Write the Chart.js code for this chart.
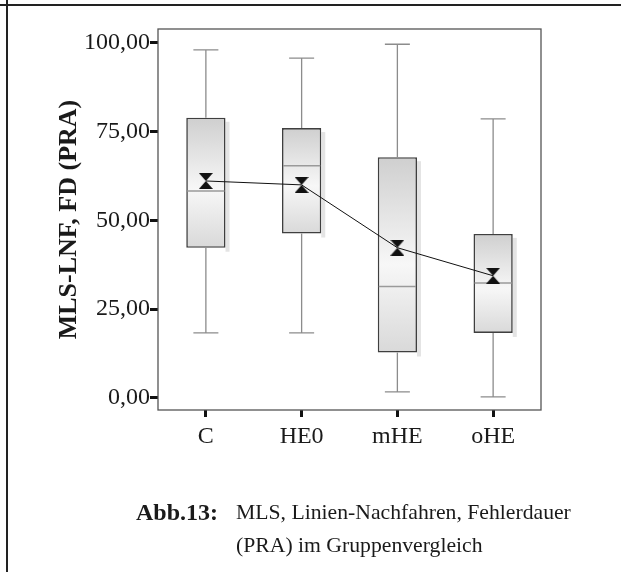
<!DOCTYPE html>
<html>
<head>
<meta charset="utf-8">
<script src="https://cdn.jsdelivr.net/npm/chart.js@4.4.1/dist/chart.umd.min.js"></script>
<style>
    html, body { margin: 0; padding: 0; background: #fff; }
    body { width: 621px; height: 572px; position: relative; overflow: hidden; font-family: "Liberation Serif", "Times New Roman", serif; color: #1a1a1a; }
    .linha-topo { position: absolute; left: 0; top: 4px; width: 621px; height: 2px; background: #222; }
    .linha-esq { position: absolute; left: 6px; top: 0; width: 2px; height: 572px; background: #222; }
    #area { position: absolute; left: 0; top: 0; width: 621px; height: 572px; }
    .legenda { position: absolute; font-size: 21.7px; line-height: 33px; white-space: nowrap; }
    .legenda b { font-size: 24px; }
</style>
</head>
<body>
<div class="linha-topo"></div>
<div class="linha-esq"></div>
<div id="area"><canvas id="grafico_boxplot"></canvas></div>
<div class="legenda" style="left:136px; top:496px;"><b>Abb.13:</b></div>
<div class="legenda" style="left:236px; top:496px;">MLS, Linien-Nachfahren, Fehlerdauer<br>(PRA) im Gruppenvergleich</div>

<script>
const grupos = ['C', 'HE0', 'mHE', 'oHE'];
const minimo = [18.3, 18.3, 1.7, 0.3];
const quartil1 = [42.3, 46.3, 12.8, 18.3];
const mediana = [58.3, 65.4, 31.4, 32.4];
const quartil3 = [78.9, 76.0, 67.8, 46.2];
const maximo = [98.0, 95.7, 99.6, 78.6];
const media = [61.1, 60.0, 42.3, 34.4];
const ticksY = [0, 25, 50, 75, 100];

const fonte = "'Liberation Serif', 'Times New Roman', serif";

// marcador da média (ampulheta)
const ampulheta = document.createElement('canvas');
ampulheta.width = 14;
ampulheta.height = 16;
(function () {
    const c = ampulheta.getContext('2d');
    c.fillStyle = '#111';
    c.beginPath();
    c.moveTo(0, 0); c.lineTo(14, 0); c.lineTo(7, 8); c.closePath();
    c.moveTo(7, 8); c.lineTo(14, 16); c.lineTo(0, 16); c.closePath();
    c.fill();
})();

const detalhesBox = {
    id: 'detalhesBox',
    beforeDatasetsDraw(chart) {
        const ctx = chart.ctx;
        const y = chart.scales.y;
        ctx.save();
        ctx.fillStyle = '#e4e4e4';
        chart.getDatasetMeta(0).data.forEach((el, i) => {
            const topo = y.getPixelForValue(quartil3[i]);
            const base = y.getPixelForValue(quartil1[i]);
            ctx.fillRect(el.x + el.width / 2, topo + 4, 4, base - topo);
        });
        ctx.restore();
    },
    afterDatasetDraw(chart, args) {
        if (args.index !== 0) return;
        const ctx = chart.ctx;
        const y = chart.scales.y;
        ctx.save();
        chart.getDatasetMeta(0).data.forEach((el, i) => {
            const x = el.x;
            const meia = el.width / 2;
            ctx.strokeStyle = '#8c8c8c';
            ctx.lineWidth = 1.3;
            ctx.beginPath();
            ctx.moveTo(x, y.getPixelForValue(quartil3[i]));
            ctx.lineTo(x, y.getPixelForValue(maximo[i]));
            ctx.moveTo(x, y.getPixelForValue(quartil1[i]));
            ctx.lineTo(x, y.getPixelForValue(minimo[i]));
            ctx.moveTo(x - 12.5, y.getPixelForValue(maximo[i]));
            ctx.lineTo(x + 12.5, y.getPixelForValue(maximo[i]));
            ctx.moveTo(x - 12.5, y.getPixelForValue(minimo[i]));
            ctx.lineTo(x + 12.5, y.getPixelForValue(minimo[i]));
            ctx.stroke();
            ctx.strokeStyle = '#9a9a9a';
            ctx.lineWidth = 1.5;
            ctx.beginPath();
            ctx.moveTo(x - meia + 1, y.getPixelForValue(mediana[i]));
            ctx.lineTo(x + meia - 1, y.getPixelForValue(mediana[i]));
            ctx.stroke();
        });
        ctx.restore();
    },
    afterDraw(chart) {
        const {ctx, chartArea: a} = chart;
        ctx.save();
        ctx.strokeStyle = '#555';
        ctx.lineWidth = 1.3;
        ctx.strokeRect(a.left, a.top, a.right - a.left, a.bottom - a.top);
        ctx.restore();
    }
};

// preenchimento com degradê vertical em cada caixa
function degradeCaixa(c) {
    const y = c.chart.scales.y;
    const i = c.dataIndex;
    if (!y || i == null) return '#e8e8e8';
    const topo = y.getPixelForValue(quartil3[i]);
    const base = y.getPixelForValue(quartil1[i]);
    if (!isFinite(topo) || !isFinite(base)) return '#e8e8e8';
    const g = c.chart.ctx.createLinearGradient(0, topo, 0, base);
    g.addColorStop(0, '#cfcfcf');
    g.addColorStop(0.55, '#f7f7f7');
    g.addColorStop(1, '#d9d9d9');
    return g;
}

const divBox = document.getElementById('grafico_boxplot').getContext('2d');

const graficoBox = new Chart(divBox, {
    data: {
        labels: grupos,
        datasets: [
            {
                type: 'bar',
                label: 'Quartis',
                data: quartil1.map((v, i) => [v, quartil3[i]]),
                backgroundColor: degradeCaixa,
                borderColor: '#3f3f3f',
                borderWidth: 1.6,
                borderSkipped: false,
                barPercentage: 0.41,
                categoryPercentage: 1,
                order: 2,
            },
            {
                type: 'line',
                label: 'Mittelwert',
                data: media,
                borderColor: '#111',
                borderWidth: 1,
                tension: 0,
                pointStyle: ampulheta,
                pointRadius: 8,
                order: 1,
            }
        ]
    },
    plugins: [detalhesBox],
    options: {
        responsive: true,
        maintainAspectRatio: false,
        animation: false,
        layout: {
            padding: { left: 54, top: 29, right: 80, bottom: 122 }
        },
        plugins: {
            legend: { display: false },
            tooltip: { enabled: false }
        },
        scales: {
            x: {
                type: 'category',
                offset: true,
                afterFit: (s) => { s.height = 40; },
                border: { display: false },
                grid: {
                    offset: false,
                    drawOnChartArea: false,
                    drawTicks: true,
                    tickLength: 7,
                    tickWidth: 3,
                    tickColor: '#111',
                },
                ticks: {
                    color: '#1a1a1a',
                    padding: 5,
                    font: { family: fonte, size: 24 }
                }
            },
            y: {
                min: -3.4,
                max: 103.9,
                afterFit: (s) => { s.width = 104; },
                afterBuildTicks: (s) => { s.ticks = ticksY.map(v => ({ value: v })); },
                border: { display: false },
                grid: {
                    drawOnChartArea: false,
                    drawTicks: true,
                    tickLength: 8,
                    tickWidth: 3,
                    tickColor: '#111',
                },
                ticks: {
                    color: '#1a1a1a',
                    padding: 0,
                    font: { family: fonte, size: 24 },
                    callback: (v) => Number(v).toFixed(2).replace('.', ',')
                },
                title: {
                    display: true,
                    text: 'MLS-LNF, FD (PRA)',
                    color: '#1a1a1a',
                    padding: { top: 0, bottom: 0 },
                    font: { family: fonte, size: 26, weight: 'bold' }
                }
            }
        }
    }
});
</script>
</body>
</html>
